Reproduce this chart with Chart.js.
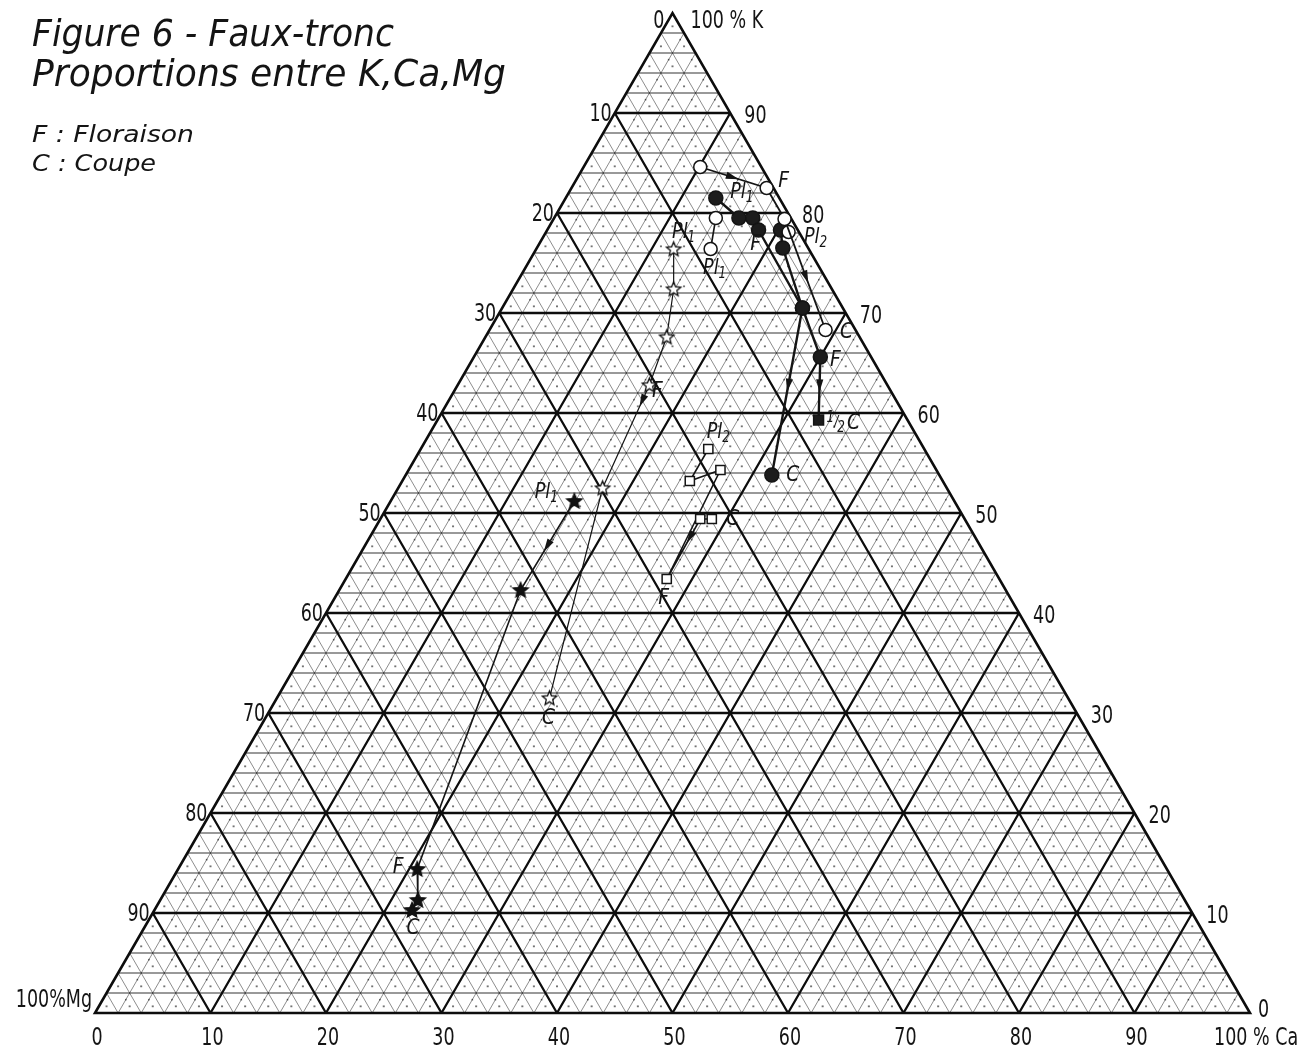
<!DOCTYPE html>
<html>
<head>
<meta charset="utf-8">
<script src="https://cdn.jsdelivr.net/npm/chart.js@4.4.1/dist/chart.umd.min.js"></script>
<style>
  html, body { margin: 0; padding: 0; background: #fff; }
  #wrap { width: 1315px; height: 1050px; position: relative; }
</style>
</head>
<body>
<div id="wrap"><canvas id="c" width="1315" height="1050"></canvas></div>
<script>
// ---- Composition (% of K + Ca + Mg) for each series ----
// Open stars
const starOpenCa = [11.9, 13.9, 15.7, 16.6, 17.7, 23.6];
const starOpenK  = [76.4, 72.4, 67.6, 62.8, 52.5, 31.5];
// Filled stars
const starFullCa = [15.9, 15.7, 20.7, 22.3, 22.3];
const starFullK  = [51.2, 42.3, 14.4, 11.3, 10.3];
// Open squares
const squareCa = [24.9, 24.9, 27.0, 27.8, 27.7, 28.7];
const squareK  = [56.4, 53.2, 54.3, 43.4, 49.4, 49.4];
// Open circles, three series
const ringACa = [10.1, 16.9, 20.0, 29.1];
const ringAK  = [84.6, 82.5, 79.4, 68.3];
const ringBCa = [15.1, 14.0];
const ringBK  = [76.4, 79.5];
const ringCCa = [21.0];
const ringCK  = [78.1];
// Filled circles, two series
const dotACa = [13.0, 16.0, 17.2, 18.3, 26.0, 31.7];
const dotAK  = [81.5, 79.5, 79.5, 78.3, 70.5, 53.8];
const dotBCa = [20.2, 21.3, 26.0, 30.0, 33.0];
const dotBK  = [78.3, 76.5, 70.5, 65.6, 59.3];

// Axis tick labels
const bottomTicks = ['0', '10', '20', '30', '40', '50', '60', '70', '80', '90'];
const leftTicks   = ['10', '20', '30', '40', '50', '60', '70', '80', '90'];
const rightTicks  = ['90', '80', '70', '60', '50', '40', '30', '20', '10', '0'];

const SQ3 = Math.sqrt(3) / 2;
// ternary (Ca, K) -> cartesian (x along the base, y up)
function tern(ca, k) { return { x: ca + k / 2, y: k * SQ3 }; }
function toPoints(ca, k) { return ca.map((c, i) => tern(c, k[i])); }

// five-pointed star marker
function starImage(outer, filled) {
  const s = Math.ceil(outer * 2 + 4);
  const cv = document.createElement('canvas');
  cv.width = s; cv.height = s;
  const g = cv.getContext('2d');
  const cx = s / 2, cy = s / 2 + 0.5, inner = outer * 0.45;
  g.beginPath();
  for (let i = 0; i < 10; i++) {
    const r = i % 2 === 0 ? outer : inner;
    const a = -Math.PI / 2 + i * Math.PI / 5;
    const px = cx + r * Math.cos(a), py = cy + r * Math.sin(a);
    if (i === 0) g.moveTo(px, py); else g.lineTo(px, py);
  }
  g.closePath();
  g.fillStyle = filled ? '#111' : '#fff';
  g.fill();
  g.lineWidth = 1.3;
  g.strokeStyle = '#111';
  g.stroke();
  return cv;
}
const starOpenImg = starImage(7.5, false);
const starFullImg = starImage(8, true);

const INK = '#141414';
const LBL_FONT = '"DejaVu Sans", "Liberation Sans", sans-serif';

const datasets = [
  { id: 'starOpen', data: toPoints(starOpenCa, starOpenK), borderWidth: 1.2,
    pointStyle: starOpenImg },
  { id: 'starFull', data: toPoints(starFullCa, starFullK), borderWidth: 1.6,
    pointStyle: starFullImg },
  { id: 'square', data: toPoints(squareCa, squareK), borderWidth: 1.6,
    pointStyle: 'rect', pointRadius: 6.5, pointBackgroundColor: '#fff' },
  { id: 'ringA', data: toPoints(ringACa, ringAK), borderWidth: 1.8,
    pointStyle: 'circle', pointRadius: 6.5, pointBackgroundColor: '#fff' },
  { id: 'ringB', data: toPoints(ringBCa, ringBK), borderWidth: 1.6,
    pointStyle: 'circle', pointRadius: 6.5, pointBackgroundColor: '#fff' },
  { id: 'ringC', data: toPoints(ringCCa, ringCK), borderWidth: 1.6,
    pointStyle: 'circle', pointRadius: 6.5, pointBackgroundColor: '#fff' },
  { id: 'dotA', data: toPoints(dotACa, dotAK), borderWidth: 2.4,
    pointStyle: 'circle', pointRadius: 7, pointBackgroundColor: '#1c1c1c' },
  { id: 'dotB', data: toPoints(dotBCa, dotBK), borderWidth: 2.4,
    pointStyle: ['circle', 'circle', 'circle', 'circle', 'rect'],
    pointRadius: [7, 7, 7, 7, 7], pointBackgroundColor: '#1c1c1c' }
].map(d => Object.assign({
  label: d.id, showLine: true, borderColor: INK, pointBorderColor: INK,
  pointBorderWidth: 1.5, pointRadius: 7, pointHoverRadius: 7, tension: 0
}, d));

const dsIndex = {};
datasets.forEach((d, i) => { dsIndex[d.id] = i; });

// direction arrows: series, segment index, position along the segment
const arrows = [
  ['ringA', 0, 0.48], ['ringA', 2, 0.52],
  ['dotA', 4, 0.46], ['dotB', 3, 0.45],
  ['starOpen', 3, 0.15], ['starFull', 0, 0.5],
  ['square', 3, 0.3, true]
];

// point annotations: series, point, text, dx, dy
const notes = [
  ['dotA', 0, 'Pl_1', 26, -6],
  ['ringA', 1, 'F', 17, -7],
  ['ringA', 3, 'C', 21, 2],
  ['ringB', 0, 'Pl_1', 4, 19],
  ['starOpen', 0, 'Pl_1', 10, -17],
  ['dotA', 3, 'F', -3, 14],
  ['dotB', 0, 'Pl_2', 35, 7],
  ['dotB', 3, 'F', 15, 3],
  ['dotB', 4, 'HALF', 24, 3],
  ['dotA', 5, 'C', 21, 0],
  ['square', 0, 'Pl_2', 10, -17],
  ['square', 5, 'C', 21, 0],
  ['square', 3, 'F', -3, 19],
  ['starOpen', 3, 'F', 8, 6],
  ['starOpen', 5, 'C', -1, 20],
  ['starFull', 0, 'Pl_1', -28, -9],
  ['starFull', 2, 'F', -19, -2],
  ['starFull', 4, 'C', 1, 18]
];

function ternPx(chart, ca, k) {
  const p = tern(ca, k);
  return [chart.scales.x.getPixelForValue(p.x), chart.scales.y.getPixelForValue(p.y)];
}

// draw text squeezed horizontally by sx
function squeezed(ctx, text, x, y, font, sx, align) {
  ctx.save();
  ctx.font = font;
  const w = ctx.measureText(text).width * sx;
  let left = x;
  if (align === 'center') left = x - w / 2;
  else if (align === 'right') left = x - w;
  ctx.translate(left, y);
  ctx.scale(sx, 1);
  ctx.textAlign = 'left';
  ctx.fillText(text, 0, 0);
  ctx.restore();
  return w;
}
// draw text stretched to a given width
function fitted(ctx, text, x, y, font, width) {
  ctx.save();
  ctx.font = font;
  const w = ctx.measureText(text).width;
  ctx.translate(x, y);
  ctx.scale(width / w, 1);
  ctx.textAlign = 'left';
  ctx.fillText(text, 0, 0);
  ctx.restore();
}

const triGrid = {
  id: 'triGrid',
  beforeDatasetsDraw(chart) {
    const ctx = chart.ctx;
    const P = (ca, k) => ternPx(chart, ca, k);
    ctx.save();
    // printed dot texture inside the small cells
    ctx.fillStyle = 'rgba(0,0,0,0.55)';
    const step = 2;
    for (let k = 0; k < 100; k += step) {
      for (let ca = 0; ca + k < 100; ca += step) {
        const c1 = P(ca + step / 3, k + step / 3);
        ctx.fillRect(c1[0] - 1, c1[1] - 0.9, 2, 1.8);
        if (ca + k + 2 * step <= 100) {
          const c2 = P(ca + step, k + 2 * step / 3);
          ctx.fillRect(c2[0] - 0.8, c2[1] - 0.8, 1.6, 1.6);
        }
      }
    }
    const seg = (a, b) => { ctx.moveTo(a[0], a[1]); ctx.lineTo(b[0], b[1]); };
    // fine diagonal lines (constant Ca and constant Mg)
    ctx.lineWidth = 1;
    ctx.strokeStyle = 'rgba(0,0,0,0.45)';
    ctx.beginPath();
    for (let v = 2; v < 100; v += 2) {
      if (v % 10 === 0) continue;
      seg(P(v, 0), P(v, 100 - v));
      seg(P(100 - v, 0), P(0, 100 - v));
    }
    ctx.stroke();
    // fine horizontal lines (constant K)
    ctx.strokeStyle = 'rgba(0,0,0,0.8)';
    ctx.lineWidth = 1.2;
    ctx.beginPath();
    for (let v = 2; v < 100; v += 2) {
      if (v % 10 === 0) continue;
      seg(P(0, v), P(100 - v, v));
    }
    ctx.stroke();
    // main 10 % lines
    ctx.strokeStyle = '#0d0d0d';
    ctx.lineWidth = 2.3;
    ctx.beginPath();
    for (let v = 10; v < 100; v += 10) {
      seg(P(0, v), P(100 - v, v));
      seg(P(v, 0), P(v, 100 - v));
      seg(P(100 - v, 0), P(0, 100 - v));
    }
    ctx.stroke();
    // outline
    ctx.lineWidth = 2.6;
    ctx.beginPath();
    const a = P(0, 0), b = P(100, 0), c = P(0, 100);
    ctx.moveTo(a[0], a[1]); ctx.lineTo(b[0], b[1]); ctx.lineTo(c[0], c[1]); ctx.closePath();
    ctx.stroke();
    ctx.restore();
  },
  afterDatasetsDraw(chart) {
    const ctx = chart.ctx;
    const pos = (id, j) => {
      const el = chart.getDatasetMeta(dsIndex[id]).data[j];
      return [el.x, el.y];
    };
    ctx.save();
    ctx.fillStyle = INK;
    // arrows
    arrows.forEach(([id, s, t, rev]) => {
      let a = pos(id, s), b = pos(id, s + 1);
      if (rev) { const tmp = a; a = b; b = tmp; }
      const x = a[0] + (b[0] - a[0]) * t, y = a[1] + (b[1] - a[1]) * t;
      const ang = Math.atan2(b[1] - a[1], b[0] - a[0]);
      ctx.save();
      ctx.translate(x, y);
      ctx.rotate(ang);
      ctx.beginPath();
      ctx.moveTo(7, 0); ctx.lineTo(-6, -3.6); ctx.lineTo(-6, 3.6);
      ctx.closePath();
      ctx.fill();
      ctx.restore();
    });
    // annotations
    ctx.textBaseline = 'middle';
    notes.forEach(([id, j, text, dx, dy]) => {
      const p = pos(id, j);
      const x = p[0] + dx, y = p[1] + dy;
      const main = 'italic 22px ' + LBL_FONT;
      const small = 'italic 15px ' + LBL_FONT;
      if (text === 'HALF') {
        let cx = x - 16;
        cx += squeezed(ctx, '1', cx, y - 5, small, 0.8, 'left');
        cx += squeezed(ctx, '/', cx, y, small, 0.8, 'left');
        cx += squeezed(ctx, '2', cx - 1, y + 5, small, 0.8, 'left');
        squeezed(ctx, 'C', cx + 1, y, main, 0.85, 'left');
      } else if (text.indexOf('_') > 0) {
        const [base, sub] = text.split('_');
        ctx.font = main;
        const wb = ctx.measureText(base).width * 0.8;
        ctx.font = small;
        const ws = ctx.measureText(sub).width * 0.8;
        const left = x - (wb + ws) / 2;
        squeezed(ctx, base, left, y, main, 0.8, 'left');
        squeezed(ctx, sub, left + wb, y + 6, small, 0.8, 'left');
      } else {
        squeezed(ctx, text, x, y, main, 0.85, 'center');
      }
    });
    ctx.restore();
  },
  afterDraw(chart) {
    const ctx = chart.ctx;
    const P = (ca, k) => ternPx(chart, ca, k);
    ctx.save();
    ctx.fillStyle = INK;
    ctx.textBaseline = 'middle';
    const num = '25px ' + LBL_FONT;
    const sx = 0.7;
    // base: % Ca
    bottomTicks.forEach((t, i) => {
      const p = P(i * 10, 0);
      squeezed(ctx, t, p[0] + 2, p[1] + 25, num, sx, 'center');
    });
    const pc = P(100, 0);
    squeezed(ctx, '100 % Ca', pc[0] - 36, pc[1] + 25, num, sx, 'left');
    // left side: % Mg
    leftTicks.forEach((t, i) => {
      const m = (i + 1) * 10;
      const p = P(0, 100 - m);
      squeezed(ctx, t, p[0] - 3, p[1] + 1, num, sx, 'right');
    });
    const pm = P(0, 0);
    squeezed(ctx, '100%Mg', pm[0] - 3, pm[1] - 13, num, sx, 'right');
    // right side: % K
    rightTicks.forEach((t, i) => {
      const k = 90 - i * 10;
      const p = P(100 - k, k);
      squeezed(ctx, t, p[0] + (k === 0 ? 8 : 14), p[1] + (k === 0 ? -3 : 3), num, sx, 'left');
    });
    const pk = P(0, 100);
    squeezed(ctx, '0', pk[0] - 8, pk[1] + 8, num, sx, 'right');
    squeezed(ctx, '100 % K', pk[0] + 18, pk[1] + 8, num, sx, 'left');

    // heading
    ctx.textBaseline = 'alphabetic';
    fitted(ctx, 'Figure 6 - Faux-tronc', 32, 46, 'italic 38px ' + LBL_FONT, 362);
    fitted(ctx, 'Proportions entre K,Ca,Mg', 32, 86, 'italic 38px ' + LBL_FONT, 474);
    fitted(ctx, 'F : Floraison', 32, 142, 'italic 23px ' + LBL_FONT, 162);
    fitted(ctx, 'C : Coupe', 32, 171, 'italic 23px ' + LBL_FONT, 124);
    ctx.restore();
  }
};

new Chart(document.getElementById('c'), {
  type: 'scatter',
  data: { datasets },
  options: {
    responsive: false,
    animation: false,
    devicePixelRatio: 1,
    layout: { padding: { left: 95, right: 65, top: 13, bottom: 37 } },
    scales: {
      x: { type: 'linear', min: 0, max: 100, display: false },
      y: { type: 'linear', min: 0, max: 100 * SQ3, display: false }
    },
    plugins: { legend: { display: false }, tooltip: { enabled: false } },
    elements: { line: { fill: false } }
  },
  plugins: [triGrid]
});
</script>
</body>
</html>
